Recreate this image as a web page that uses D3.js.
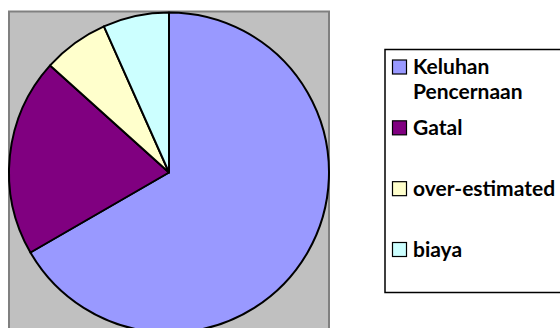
<!DOCTYPE html>
<html>
<head>
<meta charset="utf-8">
<script src="https://cdn.jsdelivr.net/npm/d3@7"></script>
<style>
  body { margin: 0; background: #fff; }
  svg { display: block; }
  .legend text { font-family: Lato, "Liberation Sans", sans-serif; font-weight: 700; font-size: 21px; fill: #000; }
</style>
</head>
<body>
<div id="container"></div>
<script>
const categories = ['Keluhan Pencernaan', 'Gatal', 'over-estimated', 'biaya'];
const values = [20, 6, 2, 2];
const colors = ['#9999FF', '#800080', '#FFFFCC', '#CCFFFF'];
// legend labels, wrapped as in the original
const legendLines = [['Keluhan', 'Pencernaan'], ['Gatal'], ['over-estimated'], ['biaya']];

const w = 560;
const h = 328;

const svg = d3.select('#container')
              .append('svg')
              .attr('width', w)
              .attr('height', h);

// plot area
svg.append('rect')
   .attr('x', 9)
   .attr('y', 11.5)
   .attr('width', 320)
   .attr('height', 330)
   .attr('fill', '#C0C0C0')
   .attr('stroke', '#808080')
   .attr('stroke-width', 2);

const cx = 169;
const cy = 172.5;
const r = 160;

const pie = d3.pie().sort(null).value((d) => d.value);
const arc = d3.arc().innerRadius(0).outerRadius(r);
const data = categories.map((c, i) => ({ name: c, value: values[i], color: colors[i] }));

svg.append('g')
   .attr('transform', `translate(${cx}, ${cy})`)
   .selectAll('path')
   .data(pie(data))
   .enter()
   .append('path')
   .attr('d', arc)
   .attr('fill', (d) => d.data.color)
   .attr('stroke', '#000')
   .attr('stroke-width', 2)
   .attr('stroke-linejoin', 'round');

// legend
const legend = svg.append('g').attr('class', 'legend');
legend.append('rect')
      .attr('x', 385)
      .attr('y', 49.5)
      .attr('width', 180)
      .attr('height', 243)
      .attr('fill', '#fff')
      .attr('stroke', '#000')
      .attr('stroke-width', 1.5);

const yScale = d3.scaleLinear().domain([0, 3]).range([74, 256.5]);

const items = legend.selectAll('g.item')
                    .data(data)
                    .enter()
                    .append('g')
                    .attr('class', 'item')
                    .attr('transform', (d, i) => `translate(0, ${yScale(i)})`);

items.append('rect')
     .attr('x', 392.5)
     .attr('y', -14)
     .attr('width', 14)
     .attr('height', 14)
     .attr('fill', (d) => d.color)
     .attr('stroke', '#000')
     .attr('stroke-width', 1.2);

items.append('text')
     .attr('x', 413)
     .attr('y', 0)
     .selectAll('tspan')
     .data((d, i) => legendLines[i])
     .enter()
     .append('tspan')
     .attr('x', 413)
     .attr('dy', (d, j) => j === 0 ? 0 : 25)
     .text((d) => d);
</script>
</body>
</html>
